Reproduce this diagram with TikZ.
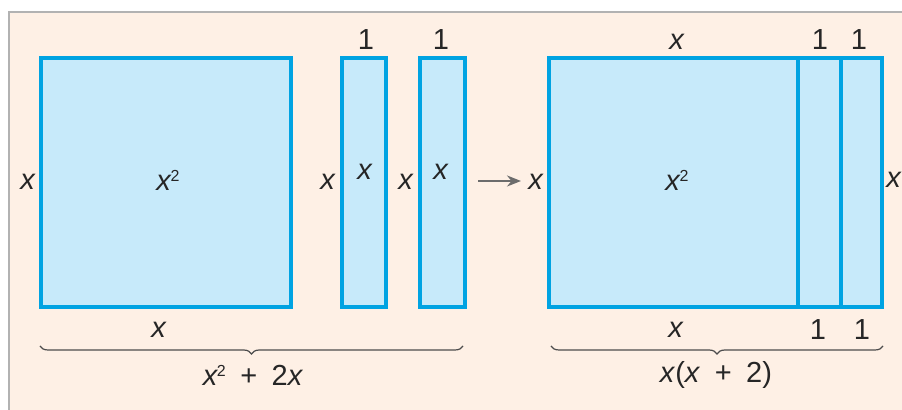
\documentclass[tikz,border=0pt]{standalone}
\usepackage{fontspec}
\setmainfont{Liberation Sans}
\usetikzlibrary{decorations.pathreplacing,arrows.meta}
\definecolor{tileblue}{RGB}{0,163,226}
\definecolor{tilefill}{RGB}{199,234,250}
\definecolor{paper}{RGB}{254,240,229}
\newcommand{\vx}{\textit{x}}
\newcommand{\vxsq}{\textit{x}\kern-0.6pt\raisebox{4.5pt}{\fontsize{8}{9}\selectfont 2}}
\begin{document}
\begin{tikzpicture}[x=0.5pt,y=-0.5pt,
  tile/.style={draw=tileblue, fill=tilefill, line width=1.6pt},
  lbl/.style={font=\fontsize{14.5}{16}\selectfont, inner sep=0pt, text=black!85},
  brc/.style={decorate, decoration={brace, mirror, amplitude=4pt}, draw=black!70, line width=0.6pt}]
  % Background
  \useasboundingbox (0,0) rectangle (902,410);
  \fill[paper] (9,12) rectangle (902,410);
  \draw[gray!60, line width=0.6pt] (9,410) -- (9,12) -- (902,12);

  % Tiles before
  \draw[tile] (41,58) rectangle (291,307);
  \draw[tile] (342,58) rectangle (386,307);
  \draw[tile] (420,58) rectangle (465,307);
  \node[lbl] (sqA) at (168,180) {\vxsq};
  \node[lbl] (sqL) at (28,182) {\vx};
  \node[lbl] (sqB) at (159,330) {\vx};
  \node[lbl] (oneA) at (366,40) {1};
  \node[lbl] (oneB) at (441,40) {1};
  \node[lbl] (stA) at (328,182) {\vx};
  \node[lbl] (stB) at (406,182) {\vx};
  \node[lbl] (inA) at (365,172) {\vx};
  \node[lbl] (inB) at (441,172) {\vx};

  % Tiles after
  \draw[tile] (549,58) rectangle (882,307);
  \draw[tileblue, line width=1.6pt] (798,58) -- (798,307);
  \draw[tileblue, line width=1.6pt] (841,58) -- (841,307);
  \node[lbl] (rcA) at (677,180) {\vxsq};
  \node[lbl] (rcL) at (536,182) {\vx};
  \node[lbl] (rcR) at (894,180) {\vx};
  \node[lbl] (topX) at (677,42) {\vx};
  \node[lbl] (topA) at (820,40) {1};
  \node[lbl] (topB) at (859,40) {1};
  \node[lbl] (botX) at (676,330) {\vx};
  \node[lbl] (botA) at (818,330) {1};
  \node[lbl] (botB) at (862,330) {1};

  % Arrow
  \coordinate (arS) at (478,181);
  \coordinate (arE) at (521,181);
  \draw[-{Stealth[length=7pt,width=5.5pt]}, gray!85!black, line width=1pt] (arS) -- (arE);

  % Braces
  \coordinate (bA1) at (40,346);
  \coordinate (bA2) at (463,346);
  \coordinate (bB1) at (551,346);
  \coordinate (bB2) at (883,346);
  \draw[brc] (bA1) -- (bA2);
  \draw[brc] (bB1) -- (bB2);
  \node[lbl] (sumA) at (253,375) {\vxsq\enspace+\enspace2\vx};
  \node[lbl] (sumB) at (716,375) {\vx(\vx\enspace+\enspace2)};
\end{tikzpicture}
\end{document}
